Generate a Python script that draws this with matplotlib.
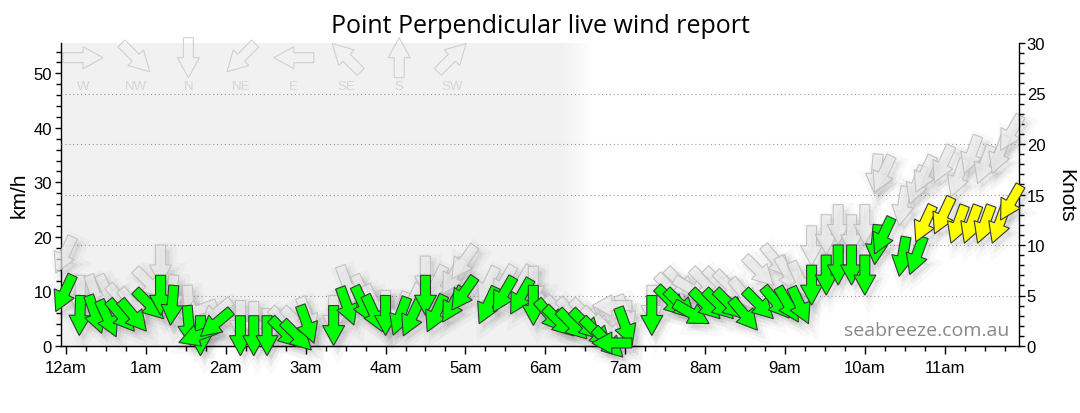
import matplotlib
matplotlib.use("Agg")
import matplotlib.pyplot as plt
import matplotlib.transforms as mtransforms
from matplotlib.patches import Polygon
from matplotlib.ticker import FixedLocator, MultipleLocator
import numpy as np

plt.rcParams["font.family"] = ["Liberation Sans", "DejaVu Sans"]

TITLE = "Point Perpendicular live wind report"
KMH_PER_KNOT = 1.852

# observations: local time, mean wind (knots), gust (knots), direction wind comes from (deg)
times = [
    "0:05", "0:11", "0:17", "0:25", "0:32", "0:41", "0:52", "1:11", "1:21", "1:31",
    "1:41", "1:53", "2:04", "2:11", "2:21", "2:31", "2:34", "2:43", "2:56", "3:21",
    "3:26", "3:37", "3:45", "4:00", "4:16", "4:26", "4:30", "4:44", "4:58", "5:07",
    "5:23", "5:36", "5:49", "5:51", "5:54", "6:00", "6:10", "6:20", "6:28", "6:37",
    "6:55", "7:05", "7:20", "7:24", "7:31", "7:37", "7:50", "8:00", "8:08", "8:20",
    "8:30", "8:44", "8:55", "9:05", "9:20", "9:31", "9:40", "9:50", "10:00", "10:10",
    "10:20", "10:31", "10:44", "10:51", "11:05", "11:15", "11:25", "11:35", "11:46", "11:57",
]
speed_kn = [
    7.0, 5.0, 5.0, 4.5, 4.5, 4.5, 5.5, 7.0, 6.0, 4.0,
    3.0, 1.7, 3.5, 3.0, 3.0, 3.0, 2.7, 2.4, 4.0, 4.0,
    5.8, 5.9, 5.0, 5.0, 4.8, 4.6, 7.0, 5.0, 5.8, 6.8,
    5.8, 6.8, 6.6, 6.0, 4.5, 3.8, 3.5, 3.5, 2.7, 1.7,
    3.8, 0.3, 5.0, 5.8, 5.5, 4.2, 5.5, 5.5, 5.5, 4.6,
    5.5, 5.8, 5.8, 5.8, 8.0, 9.0, 10.0, 10.0, 9.0, 12.0,
    12.7, 10.8, 10.8, 13.9, 14.7, 13.9, 13.9, 13.9, 13.9, 15.9,
]
gust_kn = [
    10.8, 7.0, 7.0, 7.0, 6.0, 5.6, 7.6, 10.0, 7.0, 6.0,
    4.0, 4.2, 4.5, 4.5, 4.4, 3.7, 3.7, 3.7, 4.8, 5.0,
    7.9, 7.0, 6.0, 5.5, 5.3, 6.1, 8.9, 7.9, 8.6, 9.9,
    7.8, 7.9, 7.9, 7.9, 5.0, 4.8, 4.6, 4.5, 3.7, 2.9,
    5.0, 4.0, 6.0, 7.0, 7.6, 6.6, 7.6, 7.6, 7.3, 6.6,
    8.8, 9.9, 8.8, 8.3, 11.9, 13.0, 14.0, 13.0, 14.0, 19.0,
    18.8, 15.8, 17.8, 18.8, 19.8, 18.5, 20.8, 19.8, 20.8, 22.8,
]
direction_deg = [
    25, 2, 341, 335, 320, 320, 315, 0, 5, 355,
    0, 70, 50, 0, 0, 0, 315, 315, 340, 0,
    340, 335, 335, 0, 20, 25, 0, 25, 30, 35,
    25, 30, 30, 0, 320, 315, 315, 315, 315, 315,
    340, 90, 0, 315, 315, 300, 315, 315, 315, 320,
    315, 320, 330, 335, 0, 0, 0, 0, 0, 5,
    25, 10, 20, 25, 25, 20, 20, 20, 20, 30,
]

hour_labels = ["12am", "1am", "2am", "3am", "4am", "5am",
               "6am", "7am", "8am", "9am", "10am", "11am"]
compass_labels = ["W", "NW", "N", "NE", "E", "SE", "S", "SW"]
compass_deg = [270, 315, 0, 45, 90, 135, 180, 225]

NIGHT_FADE_START = 6.2   # hours, shading starts to fade
NIGHT_END = 6.6          # hours, shading gone
X_MIN, X_MAX = -0.063, 11.93
Y_MAX_KN = 30

GREEN = "#00ff00"
YELLOW = "#ffff00"
STRONG_KN = 13

# block arrow in pixels (at 100 dpi), tail centre at origin, pointing down
ARROW = np.array([(-5, 0), (5, 0), (5, -20), (11, -20),
                  (0, -40), (-11, -20), (-5, -20)])


def to_hours(t):
    h, m = t.split(":")
    return int(h) + int(m) / 60.0


def arrow_trans(fig, x, y, base, direction, centred=False, shift=(0, 0)):
    t = mtransforms.Affine2D()
    if centred:
        t.translate(0, 20)
    t.rotate_deg(-direction).translate(*shift).scale(fig.dpi / 100.0)
    return t + mtransforms.ScaledTranslation(x, y, base)


def draw_arrow(ax, fig, x, y, direction, face, edge, lw, z, shift=(0, 0)):
    p = Polygon(ARROW, closed=True,
                transform=arrow_trans(fig, x, y, ax.transData, direction, shift=shift),
                facecolor=face, edgecolor=edge, linewidth=lw, zorder=z,
                clip_on=False, joinstyle="miter")
    ax.add_patch(p)


hours = [to_hours(t) for t in times]

fig = plt.figure(figsize=(10.8, 4.14), dpi=100)
ax = fig.add_axes([61 / 1080, 67 / 414, 958 / 1080, 303 / 414])
ax2 = ax.twinx()

# night shading with soft edge
n = 300
xs = np.linspace(X_MIN, NIGHT_END, n)
rgba = np.zeros((1, n, 4))
rgba[..., :3] = 0.947
rgba[0, :, 3] = np.clip((NIGHT_END - xs) / (NIGHT_END - NIGHT_FADE_START), 0, 1)
ax.imshow(rgba, extent=[X_MIN, NIGHT_END, 0, Y_MAX_KN * KMH_PER_KNOT], aspect="auto",
          interpolation="bilinear", zorder=0)

ax.set_xlim(X_MIN, X_MAX)
ax.set_ylim(0, Y_MAX_KN * KMH_PER_KNOT)
ax2.set_ylim(0, Y_MAX_KN)

for g in [5, 10, 15, 20, 25]:
    ax2.axhline(g, color="#9a9a9a", linestyle=(0, (1, 2.5)), linewidth=0.8, zorder=0.5)

# soft drop shadows
for x, s, g, d in zip(hours, speed_kn, gust_kn, direction_deg):
    for y in (g, s):
        draw_arrow(ax2, fig, x, y, d, (0, 0, 0, 0.05), (0, 0, 0, 0.035), 4, 1, shift=(4, -5))
        draw_arrow(ax2, fig, x, y, d, (0, 0, 0, 0.0), (0, 0, 0, 0.025), 10, 1, shift=(4, -5))

# gusts
for x, g, d in zip(hours, gust_kn, direction_deg):
    draw_arrow(ax2, fig, x, g, d, (0.92, 0.92, 0.92, 0.7), (0.72, 0.72, 0.72, 0.8), 0.8, 2)

# mean wind
for x, s, d in zip(hours, speed_kn, direction_deg):
    face = YELLOW if s >= STRONG_KN else GREEN
    draw_arrow(ax2, fig, x, s, d, face, "#383838", 0.8, 3)

# direction key
key_x0, key_dx = (83 - 61) / 958, 52.7 / 958
for i, (lab, d) in enumerate(zip(compass_labels, compass_deg)):
    kx = key_x0 + i * key_dx
    ax.add_patch(Polygon(ARROW, closed=True,
                         transform=arrow_trans(fig, kx, 0.9515, ax.transAxes, d, centred=True),
                         facecolor="none", edgecolor="#d0d0d0", linewidth=0.8, zorder=2,
                         clip_on=False))
    ax.text(kx, 0.857, lab, transform=ax.transAxes, ha="center", va="center",
            fontsize=9.5, color="#d6d6d6", zorder=2)

ax.text(0.9896, 0.053, "seabreeze.com.au", transform=ax.transAxes, ha="right", va="center",
        fontsize=14, color="#888888", family=["Open Sans", "DejaVu Sans"], zorder=1)

# axes styling
for a in (ax, ax2):
    a.spines["top"].set_visible(False)
ax.spines["right"].set_visible(False)
ax2.spines["left"].set_visible(False)
for sp in ("left", "bottom"):
    ax.spines[sp].set_linewidth(1.0)
ax2.spines["right"].set_linewidth(1.0)

ax.xaxis.set_major_locator(FixedLocator(range(len(hour_labels))))
ax.set_xticklabels(hour_labels)
ax.xaxis.set_minor_locator(MultipleLocator(0.25))
ax.yaxis.set_major_locator(MultipleLocator(10))
ax.yaxis.set_minor_locator(MultipleLocator(2))
ax2.yaxis.set_major_locator(MultipleLocator(5))
ax2.yaxis.set_minor_locator(MultipleLocator(1))

ax.tick_params(axis="x", which="major", length=6, width=1, labelsize=12, pad=4)
ax.tick_params(axis="x", which="minor", length=3.3, width=1)
ax.tick_params(axis="y", which="major", length=4.5, width=1, labelsize=12, pad=2)
ax.tick_params(axis="y", which="minor", length=3.3, width=1)
ax2.tick_params(axis="y", which="major", length=4.5, width=1, labelsize=12, pad=1)
ax2.tick_params(axis="y", which="minor", length=3.3, width=1)

ax.set_ylabel("km/h", fontsize=15)
ax.yaxis.set_label_coords(-0.034, 0.5)
ax2.set_ylabel("Knots", fontsize=15, rotation=270, va="center")
ax2.yaxis.set_label_coords(1.049, 0.5)

fig.text(0.5, 1 - 33 / 414, TITLE, ha="center", va="baseline", fontsize=18,
         family=["Open Sans", "DejaVu Sans"])

fig.savefig("out.png", dpi=100)
